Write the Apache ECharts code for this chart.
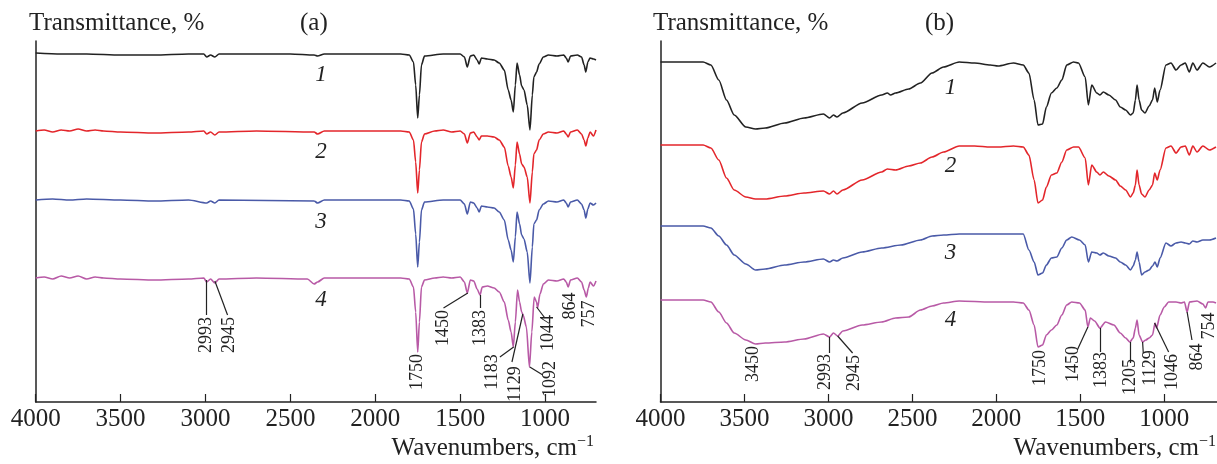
<!DOCTYPE html>
<html>
<head>
<meta charset="utf-8">
<script src="https://cdn.jsdelivr.net/npm/echarts@6/dist/echarts.min.js"></script>
<style>
html, body { margin: 0; padding: 0; background: #fff; }
#chart { width: 1217px; height: 464px; }
</style>
</head>
<body>
<div id="chart"></div>
<script>
// tick labels of the wavenumber axis
var tickWn = [4000, 3500, 3000, 2500, 2000, 1500, 1000];
var curveNames = ['1', '2', '3', '4'];
var colors = ['#222222', '#e3262b', '#4a5aa8', '#b85aa6'];

// panel (a): [wavenumber, transmittance (offset, a.u.)]
var specA1 = [[4000,349],[3850,348],[3700,348],[3500,347],[3300,347],[3100,348],[3010,348],[2993,345],[2970,347],[2945,345],[2920,348],[2700,348],[2500,348],[2360,347],[2340,346],[2300,348],[2000,348],[1850,348],[1800,347],[1775,340],[1762,317],[1750,284],[1740,307],[1728,337],[1710,346],[1600,348],[1500,348],[1475,345],[1458,335],[1440,346],[1420,347],[1400,342],[1388,338],[1375,344],[1340,343],[1300,342],[1270,339],[1240,332],[1217,312],[1200,302],[1187,290],[1175,317],[1165,339],[1150,327],[1138,316],[1124,312],[1105,297],[1089,272],[1075,307],[1066,325],[1050,330],[1035,338],[1010,345],[980,347],[930,346],[890,347],[875,344],[864,340],[850,346],[810,347],[785,345],[770,337],[760,330],[748,340],[735,344],[715,343],[700,342]];
var specA2 = [[4000,271],[3950,272],[3900,270],[3850,272],[3800,271],[3750,273],[3700,271],[3650,272],[3600,271],[3500,270],[3300,269],[3100,270],[3010,271],[2993,268],[2970,270],[2945,267],[2920,270],[2700,271],[2360,270],[2340,268],[2300,271],[2000,271],[1850,271],[1800,270],[1775,262],[1762,240],[1750,209],[1740,232],[1728,260],[1710,268],[1650,271],[1600,272],[1550,270],[1500,271],[1475,268],[1458,259],[1440,269],[1420,270],[1400,265],[1388,262],[1375,266],[1340,266],[1300,265],[1270,262],[1240,255],[1217,236],[1200,225],[1187,214],[1175,237],[1165,260],[1150,248],[1138,238],[1124,235],[1105,225],[1089,199],[1075,230],[1066,248],[1050,252],[1035,262],[1010,268],[980,270],[930,269],[890,271],[875,268],[864,265],[850,270],[810,272],[785,268],[770,262],[760,256],[748,264],[735,270],[715,266],[700,272]];
var specA3 = [[4000,202],[3900,203],[3800,202],[3700,203],[3500,202],[3300,201],[3100,202],[2993,199],[2970,201],[2945,199],[2920,202],[2360,201],[2340,199],[2300,202],[1850,202],[1800,201],[1775,193],[1762,168],[1750,135],[1740,160],[1728,192],[1710,200],[1600,202],[1500,202],[1475,198],[1458,188],[1440,200],[1420,199],[1400,194],[1388,190],[1375,196],[1340,195],[1300,194],[1270,190],[1240,182],[1217,162],[1200,152],[1187,140],[1175,165],[1165,190],[1150,178],[1138,167],[1124,163],[1105,150],[1089,119],[1075,155],[1066,178],[1050,182],[1035,192],[1010,198],[980,201],[930,200],[890,202],[875,199],[864,195],[850,200],[810,202],[785,198],[770,192],[760,184],[748,193],[735,199],[715,197],[700,199]];
var specA4 = [[4000,124],[3950,125],[3900,123],[3850,126],[3800,124],[3750,126],[3700,123],[3650,125],[3600,124],[3500,123],[3300,122],[3100,123],[3010,124],[2993,120],[2970,123],[2945,119],[2920,123],[2700,124],[2400,123],[2360,118],[2340,120],[2300,124],[2000,124],[1850,124],[1800,123],[1775,115],[1762,90],[1750,50],[1740,80],[1728,115],[1710,122],[1650,124],[1600,125],[1550,124],[1500,125],[1475,120],[1458,109],[1440,122],[1420,121],[1400,113],[1383,107],[1370,115],[1340,116],[1300,114],[1270,110],[1240,100],[1217,82],[1200,70],[1187,55],[1175,80],[1162,112],[1150,100],[1138,90],[1129,87],[1110,75],[1092,35],[1078,70],[1064,105],[1050,100],[1044,94],[1030,108],[1010,118],[980,122],[930,121],[890,123],[875,120],[864,115],[850,122],[810,124],[785,120],[770,112],[757,105],[745,114],[735,120],[715,116],[700,121]];

// panel (b)
var specB1 = [[4000,340],[3850,340],[3746,340],[3700,337],[3653,322],[3607,302],[3561,287],[3492,275],[3434,273],[3376,274],[3261,279],[3145,284],[3030,288],[2993,284],[2970,287],[2949,285],[2914,289],[2799,299],[2683,307],[2649,309],[2630,307],[2600,309],[2522,313],[2452,319],[2383,329],[2314,335],[2221,340],[2129,339],[2036,337],[1990,336],[1898,339],[1840,337],[1806,329],[1775,302],[1752,277],[1725,278],[1702,295],[1672,309],[1640,314],[1610,322],[1581,337],[1540,340],[1511,339],[1471,325],[1452,297],[1432,317],[1402,309],[1383,307],[1363,310],[1330,307],[1290,302],[1262,295],[1230,292],[1201,287],[1185,289],[1172,302],[1162,317],[1150,302],[1135,292],[1115,289],[1090,296],[1070,302],[1057,314],[1042,300],[1025,312],[990,337],[960,339],[930,332],[900,337],[875,339],[851,330],[830,339],[805,332],[770,339],[731,335],[692,339]];
var specB2 = [[4000,257],[3746,257],[3700,254],[3653,242],[3607,224],[3561,212],[3492,205],[3434,203],[3376,203],[3261,206],[3145,209],[3030,211],[2993,208],[2970,211],[2949,208],[2914,212],[2799,222],[2683,230],[2649,233],[2600,232],[2522,236],[2452,239],[2383,245],[2314,250],[2221,256],[2129,256],[2036,255],[1990,255],[1898,256],[1840,255],[1806,247],[1775,222],[1752,199],[1725,202],[1702,215],[1672,227],[1640,229],[1610,240],[1581,252],[1540,255],[1511,255],[1471,244],[1452,217],[1432,237],[1402,230],[1383,227],[1363,230],[1330,226],[1290,222],[1262,216],[1230,212],[1201,205],[1185,209],[1172,217],[1162,232],[1150,217],[1135,208],[1115,205],[1090,212],[1070,217],[1057,229],[1042,222],[1025,232],[990,254],[960,256],[930,249],[900,255],[875,256],[851,247],[830,256],[805,250],[770,256],[731,252],[692,255]];
var specB3 = [[4000,176],[3746,176],[3700,174],[3653,166],[3607,157],[3561,147],[3492,138],[3434,132],[3376,133],[3261,137],[3145,140],[3030,143],[2993,140],[2970,142],[2949,141],[2914,144],[2799,150],[2683,154],[2568,157],[2452,162],[2383,166],[2314,167],[2221,168],[2036,168],[1898,168],[1840,168],[1806,152],[1775,140],[1752,127],[1725,129],[1702,137],[1672,144],[1640,145],[1610,154],[1581,162],[1551,165],[1505,162],[1471,157],[1452,140],[1432,150],[1402,149],[1383,147],[1363,149],[1330,146],[1290,144],[1262,140],[1230,137],[1201,132],[1185,136],[1172,142],[1162,150],[1150,140],[1135,127],[1115,130],[1090,132],[1070,136],[1055,140],[1042,135],[1025,144],[990,159],[960,156],[930,159],[900,160],[875,159],[851,158],[830,161],[805,160],[770,162],[731,162],[692,164]];
var specB4 = [[4000,102],[3746,102],[3700,100],[3653,90],[3607,79],[3561,69],[3492,62],[3434,58],[3376,59],[3261,60],[3145,63],[3030,68],[2993,65],[2970,69],[2945,66],[2914,71],[2799,77],[2683,80],[2600,84],[2522,85],[2452,92],[2383,96],[2314,99],[2221,101],[2036,100],[1898,100],[1840,99],[1806,92],[1775,77],[1752,55],[1725,57],[1702,67],[1672,72],[1640,77],[1610,87],[1581,97],[1551,100],[1505,99],[1471,92],[1455,75],[1440,84],[1415,81],[1383,74],[1350,80],[1300,77],[1262,69],[1230,64],[1205,60],[1185,64],[1172,74],[1162,82],[1150,67],[1129,60],[1110,62],[1090,64],[1070,67],[1055,79],[1046,74],[1025,87],[1000,95],[974,100],[930,100],[900,99],[880,100],[864,90],[850,100],[805,101],[770,98],[754,94],[740,100],[710,100],[692,99]];

var peakLabelsA = ['2993', '2945', '1750', '1450', '1383', '1183', '1129', '1092', '1044', '864', '757'];
var peakLabelsB = ['3450', '2993', '2945', '1750', '1450', '1383', '1205', '1129', '1046', '864', '754'];

// placement of peak labels (data coords): [peak point, leader end, label centre]
var annotA = [
  [[2993,122],[2993,87],[2993,67]],
  [[2945,121],[2870,87],[2860,67]],
  [null,null,[1750,30]],
  [[1455,109],[1598,94],[1600,74]],
  [[1383,107],[1383,94],[1383,74]],
  [[1185,55],[1266,45],[1313,30]],
  [[1131,88],[1195,40],[1174,18]],
  [[1090,35],[1013,27],[968,23]],
  [[1050,95],[1001,84],[980,69]],
  [null,null,[854,96]],
  [null,null,[739,88]]
];
var annotB = [
  [null,null,[3450,38]],
  [[2993,65],[2993,49],[3020,30]],
  [[2945,66],[2856,49],[2845,29]],
  [null,null,[1738,34]],
  [[1455,75],[1518,52],[1542,38]],
  [[1383,74],[1383,50],[1378,32]],
  [[1205,60],[1205,39],[1205,25]],
  [[1129,60],[1125,49],[1082,34]],
  [[1058,79],[974,50],[951,30]],
  [[864,90],[835,62],[801,45]],
  [null,null,[733,76]]
];
var numPosA = [2320, [327, 250, 180, 102]];
var numPosB = [2273, [314, 236, 149, 82]];

var serif = '"Liberation Serif", "DejaVu Serif", serif';

function peakMarks(labels, annot) {
  var points = [], lines = [];
  labels.forEach(function (t, i) {
    var a = annot[i];
    points.push({
      name: t, coord: a[2],
      label: { show: true, formatter: t, rotate: 90, position: 'inside', fontFamily: serif, fontSize: 18, color: '#222' }
    });
    if (a[0]) lines.push([{ coord: a[0] }, { coord: a[1] }]);
  });
  return { points: points, lines: lines };
}

function buildSeries(specs, g, numPos, labels, annot) {
  var out = [];
  specs.forEach(function (d, i) {
    var mpData = [{
      name: curveNames[i], coord: [numPos[0], numPos[1][i]],
      label: { show: true, formatter: curveNames[i], position: 'inside', fontFamily: serif, fontStyle: 'italic', fontSize: 23, color: '#222' }
    }];
    var s = {
      type: 'line', xAxisIndex: g, yAxisIndex: g, data: d,
      showSymbol: false, smooth: 0.25, smoothMonotone: 'x',
      lineStyle: { color: colors[i], width: 1.6 },
      itemStyle: { color: colors[i] },
      silent: true,
      markPoint: { symbol: 'circle', symbolSize: 0, silent: true, data: mpData }
    };
    if (i === 3) {
      var pm = peakMarks(labels, annot);
      s.markPoint.data = mpData.concat(pm.points);
      s.markLine = {
        symbol: ['none', 'none'], silent: true, animation: false,
        label: { show: false },
        lineStyle: { color: '#222', width: 1.2, type: 'solid' },
        data: pm.lines
      };
    }
    out.push(s);
  });
  return out;
}

function xAx(g, min) {
  return {
    type: 'value', gridIndex: g, min: min, max: 4000, inverse: true,
    axisLine: { lineStyle: { color: '#222', width: 1.5 } },
    axisTick: { inside: true, length: 8, customValues: tickWn, lineStyle: { color: '#222', width: 1.2 } },
    axisLabel: {
      customValues: tickWn, margin: 5, fontFamily: serif, fontSize: 25, color: '#222',
      formatter: function (v) { return String(v); }
    },
    splitLine: { show: false }
  };
}
function yAx(g) {
  return {
    type: 'value', gridIndex: g, min: 0, max: 361,
    axisLine: { show: true, lineStyle: { color: '#222', width: 1.5 } },
    axisTick: { show: false }, axisLabel: { show: false }, splitLine: { show: false }
  };
}

var big = { fontFamily: serif, fontSize: 25, fontWeight: 'normal', color: '#222' };
var wnTitle = {
  text: 'Wavenumbers, cm{sup|−1}',
  textStyle: Object.assign({}, big, { rich: { sup: { fontFamily: serif, fontSize: 16, color: '#222', verticalAlign: 'top', padding: [0, 0, 12, 0] } } })
};

var chart = echarts.init(document.getElementById('chart'));
chart.setOption({
  animation: false,
  backgroundColor: '#fff',
  title: [
    { text: 'Transmittance, %', left: 29, top: 11, padding: 0, textStyle: big },
    { text: '(a)', left: 300, top: 11, padding: 0, textStyle: big },
    { text: 'Transmittance, %', left: 653, top: 11, padding: 0, textStyle: big },
    { text: '(b)', left: 925, top: 11, padding: 0, textStyle: big },
    Object.assign({ right: 623, top: 434, padding: 0 }, wnTitle),
    Object.assign({ right: 1, top: 434, padding: 0 }, wnTitle)
  ],
  grid: [
    { left: 35.7, right: 621, top: 41, bottom: 62 },
    { left: 660.5, right: 0, top: 41, bottom: 62 }
  ],
  xAxis: [xAx(0, 700), xAx(1, 686)],
  yAxis: [yAx(0), yAx(1)],
  series: buildSeries([specA1, specA2, specA3, specA4], 0, numPosA, peakLabelsA, annotA)
    .concat(buildSeries([specB1, specB2, specB3, specB4], 1, numPosB, peakLabelsB, annotB))
});
</script>
</body>
</html>
